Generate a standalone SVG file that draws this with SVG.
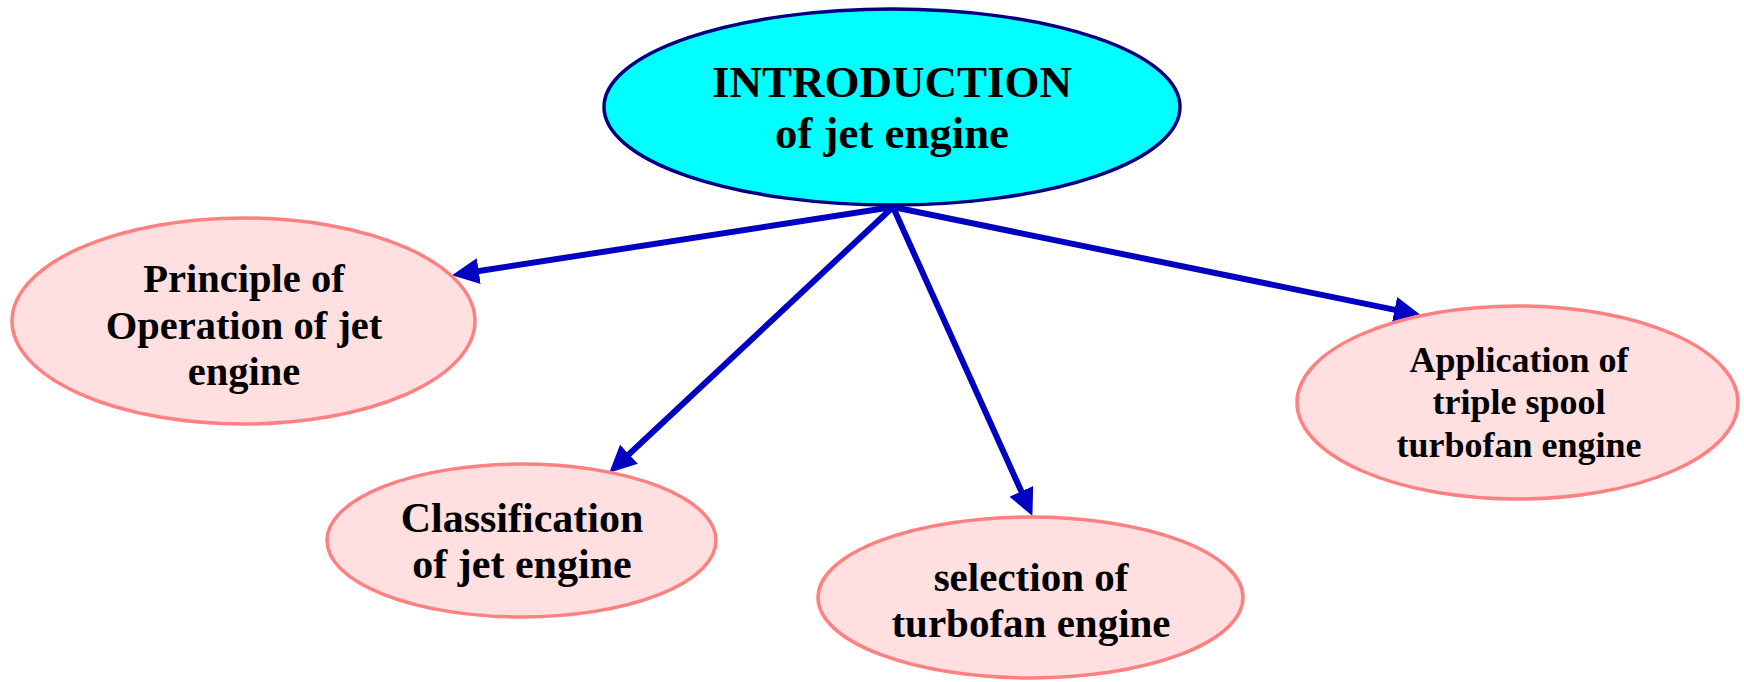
<svg xmlns="http://www.w3.org/2000/svg" width="1744" height="682" viewBox="0 0 1744 682">
<style>
.main{fill:#00FFFF;stroke:#000080;stroke-width:3.5}
.sub{fill:#FFDFDF;stroke:#FF8080;stroke-width:3.5}
text{font-family:"Liberation Serif","Times New Roman",serif;font-weight:bold;fill:#000;text-anchor:middle}
.edge{stroke:#0000C0;stroke-width:6;fill:none;marker-end:url(#arr)}
</style>
<defs>
<marker id="arr" markerUnits="userSpaceOnUse" markerWidth="30" markerHeight="28" refX="8" refY="13" orient="auto">
<path d="M0,0 L27,13 L0,26 Z" fill="#0000C0"/>
</marker>
</defs>
<rect width="1744" height="682" fill="#fff"/>
<g id="connectors">
<line class="edge" x1="893" y1="207" x2="470.8" y2="272.3"/>
<line class="edge" x1="893" y1="207" x2="623.1" y2="459.7"/>
<line class="edge" x1="893" y1="207" x2="1024.6" y2="498.6"/>
<line class="edge" x1="893" y1="207" x2="1402.4" y2="311.4"/>
</g>
<g id="intro">
<ellipse class="main" cx="892" cy="107" rx="288" ry="98"/>
<text x="892" y="97" font-size="45" textLength="360" lengthAdjust="spacingAndGlyphs">INTRODUCTION</text>
<text x="892" y="148" font-size="45" textLength="234" lengthAdjust="spacingAndGlyphs">of jet engine</text>
</g>
<g id="principle">
<ellipse class="sub" cx="243.5" cy="321" rx="231.5" ry="103"/>
<text x="244" y="292" font-size="40.5">Principle of</text>
<text x="244" y="339" font-size="40.5">Operation of jet</text>
<text x="244" y="385" font-size="40.5">engine</text>
</g>
<g id="classification">
<ellipse class="sub" cx="521.5" cy="540.5" rx="194.5" ry="76.5"/>
<text x="522" y="532" font-size="42">Classification</text>
<text x="522" y="578" font-size="42">of jet engine</text>
</g>
<g id="selection">
<ellipse class="sub" cx="1030.5" cy="597.5" rx="212.5" ry="80.5"/>
<text x="1031" y="591" font-size="41">selection of</text>
<text x="1031" y="637" font-size="41">turbofan engine</text>
</g>
<g id="application">
<ellipse class="sub" cx="1517.5" cy="402.5" rx="220.5" ry="96.5"/>
<text x="1519" y="372" font-size="36">Application of</text>
<text x="1519" y="414" font-size="36">triple spool</text>
<text x="1519" y="457" font-size="36">turbofan engine</text>
</g>
</svg>
